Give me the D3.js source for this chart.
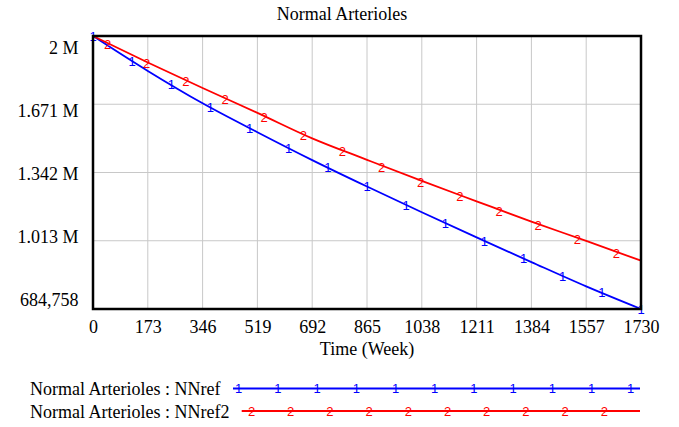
<!DOCTYPE html>
<html>
<head>
<meta charset="utf-8">
<script src="https://cdn.jsdelivr.net/npm/d3@7"></script>
<style>
  body { margin: 0; background: #fff; }
</style>
</head>
<body>
<script>
// values (weeks / arterioles)
const weeks = [0, 173, 346, 519, 692, 865, 1038, 1211, 1384, 1557, 1730];
const nnref = [2000000, 1831700, 1675800, 1536400, 1402100, 1274700, 1150900, 1029800, 910800, 793700, 684758];
const nnref2 = [2000000, 1872500, 1749500, 1629900, 1507000, 1403500, 1301600, 1203500, 1106000, 1012700, 917500];

const xTickLabels = ["0", "173", "346", "519", "692", "865", "1038", "1211", "1384", "1557", "1730"];
const yTickValues = [684758, 1013569, 1342379, 1671190, 2000000];
const yTickLabels = ["684,758", "1.013 M", "1.342 M", "1.671 M", "2 M"];

const seriesNames = ["Normal Arterioles : NNref", "Normal Arterioles : NNref2"];
const seriesMarks = ["1", "2"];
const seriesColors = ["#0000ff", "#ff0000"];

const serif = "'Liberation Serif', 'Times New Roman', serif";
const sans = "'Liberation Sans', Arial, sans-serif";
const fontSize = "18px";

const svg = d3.select("body")
  .append("svg")
  .attr("width", 679)
  .attr("height", 427)
  .style("font-family", serif);

const m = { left: 93, right: 641, top: 36, bottom: 309 };

const x = d3.scaleLinear().domain([0, 1730]).range([m.left, m.right]);
const y = d3.scaleLinear().domain([684758, 2000000]).range([m.bottom, m.top]);

// title
svg.append("text")
  .attr("x", 342)
  .attr("y", 20)
  .attr("text-anchor", "middle")
  .style("font-family", serif)
  .style("font-size", fontSize)
  .text("Normal Arterioles");

// grid lines
svg.append("g")
  .selectAll("line")
  .data(weeks.slice(1, -1))
  .enter().append("line")
  .attr("x1", function (d) { return x(d); })
  .attr("x2", function (d) { return x(d); })
  .attr("y1", m.top)
  .attr("y2", m.bottom)
  .attr("stroke", "#c8c8c8")
  .attr("stroke-width", 1);

svg.append("g")
  .selectAll("line")
  .data(yTickValues.slice(1, -1))
  .enter().append("line")
  .attr("x1", m.left)
  .attr("x2", m.right)
  .attr("y1", function (d) { return y(d); })
  .attr("y2", function (d) { return y(d); })
  .attr("stroke", "#c8c8c8")
  .attr("stroke-width", 1);

// x axis labels
const xAxis = svg.append("g")
  .attr("transform", "translate(0," + m.bottom + ")")
  .call(d3.axisBottom(x)
    .tickValues(weeks)
    .tickSize(0)
    .tickFormat(function (d, i) { return xTickLabels[i]; }));
xAxis.attr("font-family", null).attr("font-size", null);
xAxis.select(".domain").remove();
xAxis.selectAll("text")
  .attr("y", 24)
  .attr("dy", null)
  .attr("fill", "#000")
  .style("font-family", serif)
  .style("font-size", fontSize);

svg.append("text")
  .attr("x", (m.left + m.right) / 2)
  .attr("y", 355)
  .attr("text-anchor", "middle")
  .style("font-family", serif)
  .style("font-size", fontSize)
  .text("Time (Week)");

// y labels: spread evenly between top and bottom baselines like the original
const labelY = d3.scaleLinear().domain([0, yTickValues.length - 1]).range([306, 54.3]);
svg.append("g")
  .selectAll("text")
  .data(yTickLabels)
  .enter().append("text")
  .attr("x", 78.5)
  .attr("y", function (d, i) { return labelY(i); })
  .attr("text-anchor", "end")
  .style("font-family", serif)
  .style("font-size", fontSize)
  .text(function (d) { return d; });

// lines
const series = [nnref, nnref2];
const line = d3.line()
  .x(function (d, i) { return x(weeks[i]); })
  .y(function (d) { return y(d); })
  .curve(d3.curveMonotoneX);

series.forEach(function (s, k) {
  svg.append("path")
    .datum(s)
    .attr("fill", "none")
    .attr("stroke", seriesColors[k])
    .attr("stroke-width", 1.8)
    .attr("d", line);
});

// number markers along the lines
const markStep = 1730 / 14;
const markStart = [0, 46];
const markCount = [15, 14];
series.forEach(function (s, k) {
  const at = d3.scaleLinear().domain(weeks).range(s);
  const ts = d3.range(markCount[k]).map(function (i) { return markStart[k] + i * markStep; });
  svg.append("g")
    .selectAll("text")
    .data(ts)
    .enter().append("text")
    .attr("x", function (d) { return x(d); })
    .attr("y", function (d) { return y(at(d)) + (k === 0 ? 4.6 : 6.3); })
    .attr("text-anchor", "middle")
    .attr("fill", seriesColors[k])
    .style("font-family", sans)
    .style("font-size", "13px")
    .text(seriesMarks[k]);
});

// frame
svg.append("rect")
  .attr("x", m.left)
  .attr("y", m.top)
  .attr("width", m.right - m.left)
  .attr("height", m.bottom - m.top)
  .attr("fill", "none")
  .attr("stroke", "#000")
  .attr("stroke-width", 2.5);

// legend
const legendY = [388.5, 411];
const legendLineStart = [233, 241.7];
const legendMarkStart = [238.7, 251.5];
const legendMarkCount = [11, 10];
seriesNames.forEach(function (name, k) {
  const lg = svg.append("g");
  lg.append("text")
    .attr("x", 30)
    .attr("y", legendY[k] + 6.5)
    .style("font-family", serif)
    .style("font-size", fontSize)
    .text(name);
  lg.append("line")
    .attr("x1", legendLineStart[k])
    .attr("x2", 640)
    .attr("y1", legendY[k])
    .attr("y2", legendY[k])
    .attr("stroke", seriesColors[k])
    .attr("stroke-width", 1.8);
  lg.selectAll(".mk")
    .data(d3.range(legendMarkCount[k]))
    .enter().append("text")
    .attr("class", "mk")
    .attr("x", function (i) { return legendMarkStart[k] + i * 39.2; })
    .attr("y", legendY[k] + 4.8)
    .attr("text-anchor", "middle")
    .attr("fill", seriesColors[k])
    .style("font-family", sans)
    .style("font-size", "13px")
    .text(seriesMarks[k]);
});
</script>
</body>
</html>
